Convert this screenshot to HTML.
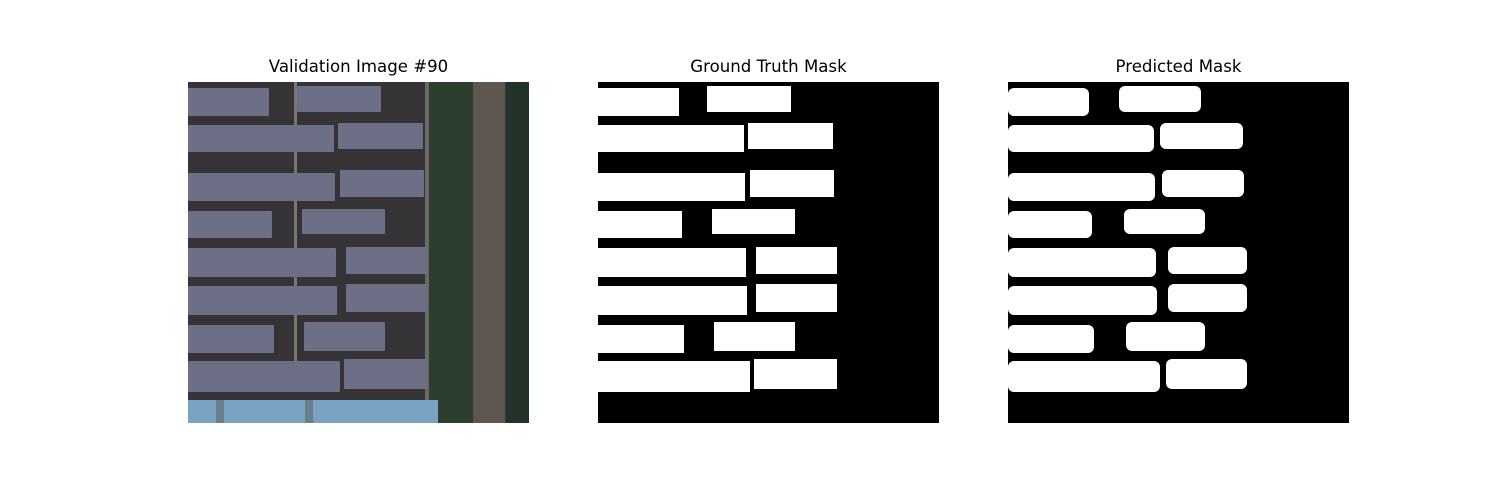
<!DOCTYPE html>
<html><head><meta charset="utf-8"><style>
body{margin:0;background:#fff;width:1500px;height:500px;overflow:hidden;position:relative;font-family:"DejaVu Sans","Liberation Sans",sans-serif}
.t{position:absolute;top:57px;width:341px;text-align:center;font-size:16.6px;color:#000}
svg{position:absolute;top:82px}
</style></head><body>
<div class="t" style="left:188px">Validation Image #90</div>
<div class="t" style="left:598px">Ground Truth Mask</div>
<div class="t" style="left:1008px">Predicted Mask</div>
<svg id="img" style="left:188px" width="341" height="341" viewBox="0 0 341 341">
<rect width="341" height="341" fill="#363336"/>
<rect x="240" width="101" height="341" fill="#2c3f2e"/>
<rect x="285" width="32" height="341" fill="#5e5650"/>
<rect x="318" width="23" height="341" fill="#24332a"/>
<rect x="237" width="4" height="318" fill="#6b6866"/>
<rect x="106" width="3" height="280" fill="#7a7672"/>
<rect x="0" y="318" width="250" height="23" fill="#7aa2c2"/>
<rect x="28" y="318" width="8" height="23" fill="#6a7f8c"/>
<rect x="117" y="318" width="8" height="23" fill="#6a7f8c"/>
</svg>
<svg id="gt" style="left:598px" width="341" height="341"><rect width="341" height="341" fill="#000"/></svg>
<svg id="pr" style="left:1008px" width="341" height="341"><rect width="341" height="341" fill="#000"/></svg>
<script>
const rowX0=[0,109,0,150,0,152,0,114,0,158,0,158,0,116,0,156];
const rowX1=[81,193,146,235,147,236,84,197,148,239,149,239,86,197,152,239];
const rowY0=[6,4,43,41,91,88,129,127,166,165,204,202,243,240,279,277];
const rowY1=[34,30,70,67,119,115,156,152,195,192,233,230,271,269,310,307];
const NS="http://www.w3.org/2000/svg";
function draw(id,fill,rx,dx){
  const s=document.getElementById(id);
  for(let i=0;i<rowX0.length;i++){
    const r=document.createElementNS(NS,"rect");
    r.setAttribute("x",rowX0[i]+(rowX0[i]>0?dx:0));
    r.setAttribute("y",rowY0[i]);
    r.setAttribute("width",rowX1[i]-rowX0[i]-(rowX0[i]>0?dx:0));
    r.setAttribute("height",rowY1[i]-rowY0[i]);
    r.setAttribute("rx",rx);
    r.setAttribute("fill",fill);
    
    
    s.appendChild(r);
  }
}
draw("img","#6c6f86",1,0);
draw("gt","#fff",0,0);
draw("pr","#fff",6,2);
</script>
</body></html>
